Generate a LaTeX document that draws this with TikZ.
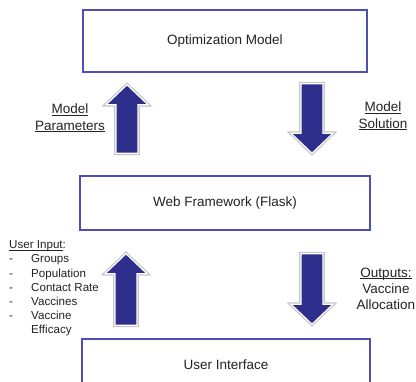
\documentclass[tikz,border=0pt]{standalone}
\usepackage{fontspec}
\setmainfont{Liberation Sans}
\usepackage{xcolor}
\usepackage{tikz}
\usetikzlibrary{calc}

\definecolor{arrowblue}{RGB}{46,46,140}
\definecolor{boxblue}{RGB}{78,78,182}
\definecolor{textgray}{RGB}{35,35,35}

% underline sitting just under the baseline
\newsavebox{\ubox}
\newcommand{\uword}[1]{\sbox{\ubox}{#1}\rlap{\rule[-1.7pt]{\wd\ubox}{0.6pt}}\usebox{\ubox}}

\tikzset{
    stage/.style={draw=boxblue, line width=1.5pt, fill=white, inner sep=0pt,
        text=textgray, font=\fontsize{13.5}{16}\selectfont},
    sidenote/.style={align=center, inner sep=0pt, text=textgray,
        font=\fontsize{13.5}{16.3}\selectfont},
    inputlist/.style={align=left, inner sep=0pt, text=textgray,
        font=\fontsize{11.6}{14.2}\selectfont},
    blockarrow/.style={fill=arrowblue, draw=white, line width=1.2pt, line join=miter,
        preaction={draw=black!22, line width=3.6pt, line join=miter}}
}

% fat arrow from #1 (tail) to #2 (tip)
\newcommand{\blockarrow}[2]{%
    \coordinate (bah) at ($(#2)!20pt!(#1)$);
    \path[blockarrow] ($(#1)!11pt!90:(#2)$) -- ($(bah)!11pt!-90:(#1)$)
        -- ($(bah)!21pt!-90:(#1)$) -- (#2) -- ($(bah)!21pt!90:(#1)$)
        -- ($(bah)!11pt!90:(#1)$) -- ($(#1)!11pt!-90:(#2)$) -- cycle;
}

\begin{document}
\begin{tikzpicture}[x=1pt, y=1pt]
    \fill[white] (0,0) rectangle (416,-382);
    \clip (0,0) rectangle (416,-382);

    % The three layers
    \node[stage, minimum width=284pt, minimum height=62pt] (optmodel) at (225,-41) {Optimization Model};
    \node[stage, minimum width=290pt, minimum height=54pt] (webfw) at (225,-203) {Web Framework (Flask)};
    \node[stage, minimum width=288pt, minimum height=52pt] (userui) at (226,-365) {User Interface};

    % Model <-> framework
    \coordinate (parmtail) at ($(webfw.north)+(-98,22)$);
    \coordinate (parmtip) at ($(optmodel.south)+(-98,-12)$);
    \coordinate (soltail) at ($(optmodel.south)+(87,-11)$);
    \coordinate (soltip) at ($(webfw.north)+(87,22)$);
    \blockarrow{parmtail}{parmtip}
    \blockarrow{soltail}{soltip}

    % Framework <-> interface
    \coordinate (intail) at ($(userui.north)+(-100,13)$);
    \coordinate (intip) at ($(webfw.south)+(-99,-23)$);
    \coordinate (outtail) at ($(webfw.south)+(87,-23)$);
    \coordinate (outtip) at ($(userui.north)+(86,14)$);
    \blockarrow{intail}{intip}
    \blockarrow{outtail}{outtip}

    % Labels beside the arrows
    \node[sidenote] (parmnote) at (70,-118) {\uword{Model}\\\uword{Parameters}};
    \node[sidenote] (solnote) at (383,-116) {\uword{Model}\\\uword{Solution}};
    \node[sidenote] (outnote) at (386,-289) {\uword{Outputs:}\\Vaccine\\Allocation};
    \node[inputlist, anchor=west] (innote) at (9,-288.6) {\uword{User Input}:\\
        \makebox[22pt][l]{-}Groups\\
        \makebox[22pt][l]{-}Population\\
        \makebox[22pt][l]{-}Contact Rate\\
        \makebox[22pt][l]{-}Vaccines\\
        \makebox[22pt][l]{-}Vaccine\\
        \makebox[22pt][l]{}Efficacy};
\end{tikzpicture}
\end{document}
